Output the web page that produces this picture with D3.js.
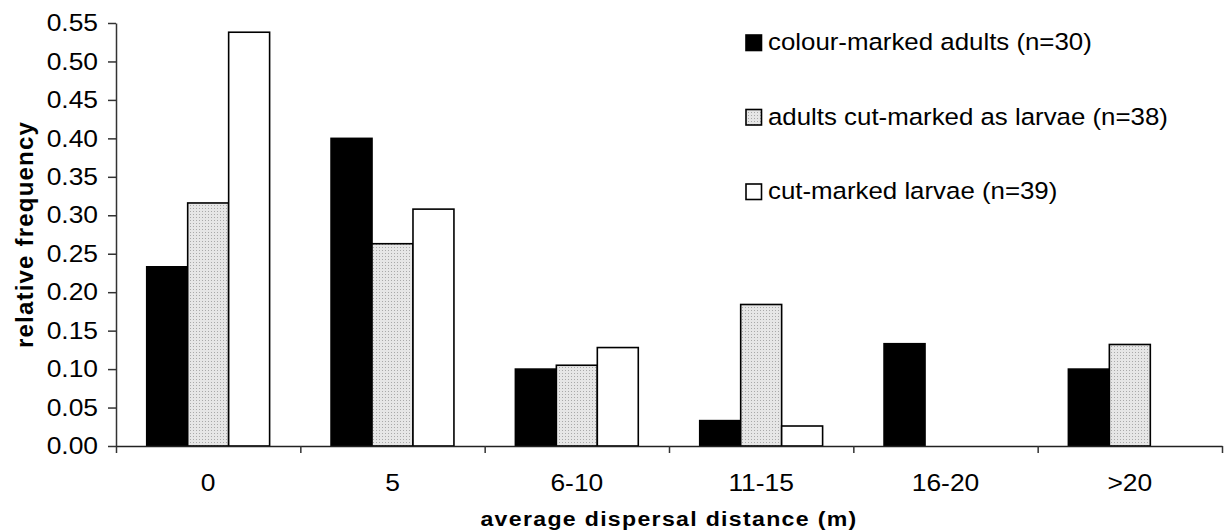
<!DOCTYPE html>
<html>
<head>
<meta charset="utf-8">
<script src="https://cdn.jsdelivr.net/npm/d3@7"></script>
<style>
  html, body { margin: 0; padding: 0; background: #fff; }
  svg { display: block; }
  text { font-family: "Liberation Sans", Arial, sans-serif; fill: #000; }
</style>
</head>
<body>
<svg id="chart" width="1224" height="531"></svg>
<script>
// ---- data ----
const categories = ["0", "5", "6-10", "11-15", "16-20", ">20"];
const seriesNames = [
  "colour-marked adults (n=30)",
  "adults cut-marked as larvae (n=38)",
  "cut-marked larvae (n=39)"
];
const colourMarkedAdults   = [0.233, 0.400, 0.100, 0.033, 0.133, 0.100];
const adultsCutMarked      = [0.316, 0.263, 0.105, 0.184, 0.000, 0.132];
const cutMarkedLarvae      = [0.538, 0.308, 0.128, 0.026, 0.000, 0.000];
const yTickValues = [0, 0.05, 0.10, 0.15, 0.20, 0.25, 0.30, 0.35, 0.40, 0.45, 0.50, 0.55];
const xTitle = "average dispersal distance (m)";
const yTitle = "relative frequency";

(function () {
const seriesValues = [colourMarkedAdults, adultsCutMarked, cutMarkedLarvae];
const seriesFills = ["#000000", "url(#dots)", "#ffffff"];

// ---- layout ----
const plotLeft = 116, plotRight = 1222, plotTop = 23, plotBottom = 446;
const SX = 1.1; // horizontal stretch of text as in the reference

const svg = d3.select("#chart");

// dotted grey pattern
const defs = svg.append("defs");
const pat = defs.append("pattern").attr("id", "dots")
  .attr("patternUnits", "userSpaceOnUse").attr("width", 3).attr("height", 3);
pat.append("rect").attr("width", 3).attr("height", 3).attr("fill", "#e6e6e6");
pat.append("rect").attr("x", 1).attr("y", 1).attr("width", 1).attr("height", 1).attr("fill", "#a9a9a9");

const x = d3.scaleBand().domain(categories).range([plotLeft, plotRight]).padding(0);
const xs = d3.scaleBand().domain(d3.range(seriesNames.length))
  .range([0, x.bandwidth()]).paddingInner(0).paddingOuter(0.75);
const y = d3.scaleLinear().domain([0, 0.55]).range([plotBottom, plotTop]);

function stretch(sel, s) {
  sel.each(function () {
    const ax = +this.getAttribute("x") || 0;
    const ay = +this.getAttribute("y") || 0;
    this.setAttribute("transform",
      `translate(${ax},${ay}) scale(${s},1) translate(${-ax},${-ay})`);
  });
}

// ---- bars ----
const bars = [];
seriesValues.forEach((vals, si) => {
  vals.forEach((v, ci) => {
    if (v > 0) bars.push({ s: si, c: categories[ci], v });
  });
});
svg.append("g").selectAll("rect").data(bars).join("rect")
  .attr("x", d => x(d.c) + xs(d.s))
  .attr("y", d => y(d.v))
  .attr("width", xs.bandwidth())
  .attr("height", d => y(0) - y(d.v))
  .attr("fill", d => seriesFills[d.s])
  .attr("stroke", "#000")
  .attr("stroke-width", 1.6);

// ---- y axis ----
const yAxis = svg.append("g").attr("transform", `translate(${plotLeft},0)`)
  .call(d3.axisLeft(y).tickValues(yTickValues).tickSize(8).tickSizeOuter(0)
    .tickFormat(d3.format(".2f")));
yAxis.attr("font-family", null).attr("font-size", null);
yAxis.select(".domain").attr("stroke", "#333").attr("stroke-width", 1.5);
yAxis.selectAll(".tick line").attr("stroke", "#333").attr("stroke-width", 1.5);
yAxis.selectAll(".tick text")
  .attr("x", -18).attr("font-size", 24)
  .call(stretch, SX);

// ---- x axis ----
const xAxisTicks = svg.append("g").attr("transform", `translate(0,${plotBottom})`)
  .call(d3.axisBottom(d3.scaleLinear().domain([0, categories.length]).range([plotLeft, plotRight]))
    .tickValues(d3.range(categories.length + 1)).tickSize(7).tickSizeOuter(0).tickFormat(""));
xAxisTicks.select(".domain").attr("stroke", "#222").attr("stroke-width", 1.5);
xAxisTicks.selectAll(".tick line").attr("stroke", "#333").attr("stroke-width", 1.5);

const xAxisLabels = svg.append("g").attr("transform", `translate(0,${plotBottom})`)
  .call(d3.axisBottom(x).tickSize(0).tickPadding(0));
xAxisLabels.attr("font-family", null).attr("font-size", null);
xAxisLabels.select(".domain").remove();
xAxisLabels.selectAll(".tick text")
  .attr("y", 45.5).attr("dy", 0).attr("font-size", 24)
  .call(stretch, SX);

// ---- axis titles ----
svg.append("text")
  .attr("x", (plotLeft + plotRight) / 2).attr("y", 526)
  .attr("text-anchor", "middle").attr("font-weight", "bold")
  .attr("font-size", 21).attr("letter-spacing", 1.2)
  .text(xTitle).call(stretch, SX);

svg.append("text")
  .attr("transform", `translate(33,${(plotTop + plotBottom) / 2}) rotate(-90)`)
  .attr("text-anchor", "middle").attr("font-weight", "bold")
  .attr("font-size", 24).attr("letter-spacing", 1.2)
  .text(yTitle);

// ---- legend ----
const legend = svg.append("g");
const rowY = d3.scaleLinear().domain([0, 2]).range([35, 184]);
seriesNames.forEach((name, i) => {
  legend.append("rect")
    .attr("x", 746).attr("y", rowY(i)).attr("width", 15.5).attr("height", 15.5)
    .attr("fill", seriesFills[i]).attr("stroke", "#000").attr("stroke-width", 1.6);
  legend.append("text")
    .attr("x", 768).attr("y", rowY(i) + 15.5)
    .attr("font-size", 23.5).text(name).call(stretch, SX);
});
})();
</script>
</body>
</html>
